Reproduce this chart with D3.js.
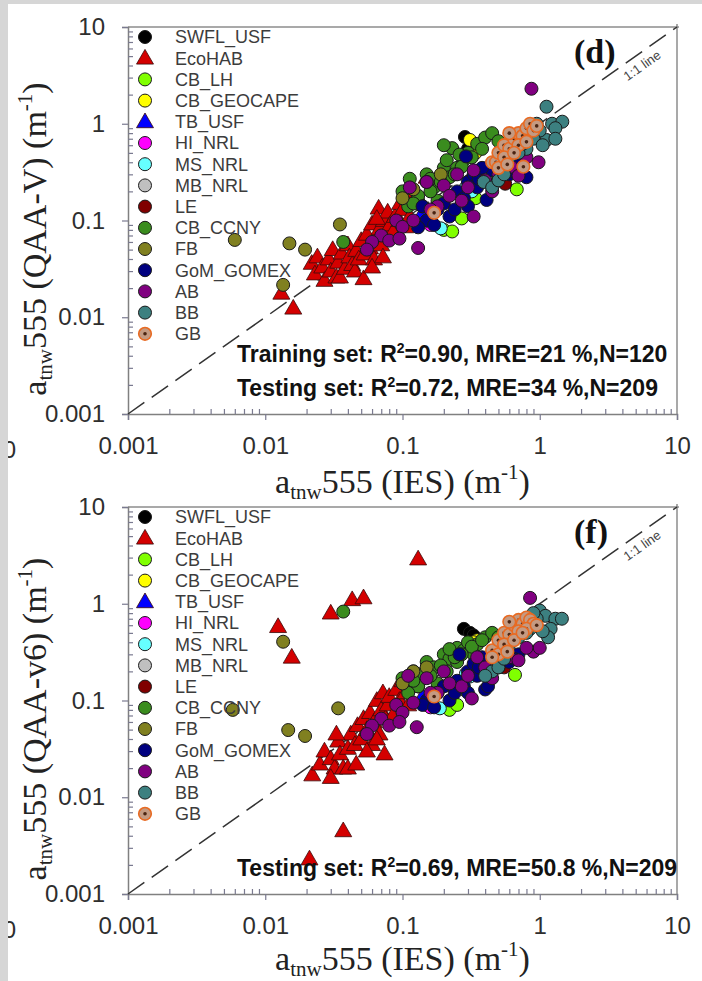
<!DOCTYPE html>
<html>
<head>
<meta charset="utf-8">
<script src="https://cdn.jsdelivr.net/npm/d3@7"></script>
<style>
body { margin: 0; background: #fff; }
svg { display: block; }
</style>
</head>
<body>
<div id="chart"></div>
<script>
var seriesNames = ["SWFL_USF", "EcoHAB", "CB_LH", "CB_GEOCAPE", "TB_USF", "HI_NRL", "MS_NRL", "MB_NRL",
    "LE", "CB_CCNY", "FB", "GoM_GOMEX", "AB", "BB", "GB"];
var seriesFill = ["#000000", "#d40000", "#80ff00", "#ffff00", "#0000ff", "#ff00ff", "#66ffff", "#c0c0c0",
    "#800000", "#3a8c1e", "#808020", "#000080", "#800080", "#3c8080", "#c49a82"];
var seriesShape = ["circle", "triangle", "circle", "circle", "triangle", "circle", "circle", "circle",
    "circle", "circle", "circle", "circle", "circle", "circle", "ring"];

var tickValues = [0.001, 0.01, 0.1, 1, 10];
var tickLabels = ["0.001", "0.01", "0.1", "1", "10"];

// panel (d): QAA-V vs IES
var d_SWFL = [[0.285, 0.73], [0.33, 0.62], [0.3, 0.55]];
var d_EcoHAB = [[0.0131, 0.0177], [0.016, 0.0124], [0.0218, 0.036], [0.023, 0.028], [0.024, 0.042], [0.026, 0.033],
    [0.027, 0.024], [0.029, 0.04], [0.03, 0.03], [0.031, 0.05], [0.033, 0.026], [0.034, 0.037], [0.035, 0.026],
    [0.036, 0.046], [0.038, 0.032], [0.04, 0.056], [0.041, 0.042], [0.043, 0.035], [0.045, 0.03], [0.046, 0.049],
    [0.048, 0.04], [0.05, 0.062], [0.052, 0.025], [0.053, 0.045], [0.055, 0.072], [0.058, 0.052], [0.06, 0.092],
    [0.062, 0.04], [0.064, 0.066], [0.067, 0.134], [0.068, 0.082], [0.07, 0.056], [0.072, 0.042], [0.073, 0.1],
    [0.076, 0.07], [0.078, 0.122], [0.081, 0.09], [0.085, 0.076], [0.088, 0.11], [0.096, 0.15], [0.095, 0.1],
    [0.1, 0.13], [0.105, 0.086], [0.113, 0.11], [0.11, 0.17], [0.12, 0.2], [0.13, 0.16], [0.15, 0.28],
    [0.06, 0.033], [0.065, 0.105]];
var d_CBLH = [[0.2, 0.08], [0.23, 0.077], [0.68, 0.21], [0.27, 0.105], [0.34, 0.17]];
var d_GEOCAPE = [[0.37, 0.56], [0.34, 0.5], [0.31, 0.68]];
var d_TBUSF = [[0.14, 0.12]];
var d_HINRL = [[0.16, 0.09], [0.15, 0.1]];
var d_MSNRL = [[0.19, 0.083], [0.32, 0.2], [0.29, 0.22]];
var d_MBNRL = [[0.55, 0.45]];
var d_LE = [[0.56, 0.24], [0.5, 0.28], [0.13, 0.16]];
var d_CCNY = [[0.037, 0.06], [0.1, 0.2], [0.113, 0.27], [0.13, 0.18], [0.15, 0.3], [0.17, 0.22], [0.2, 0.35],
    [0.22, 0.28], [0.23, 0.56], [0.25, 0.35], [0.28, 0.42], [0.2, 0.6], [0.3, 0.5], [0.35, 0.62], [0.18, 0.16],
    [0.14, 0.14], [0.4, 0.72], [0.45, 0.8], [0.5, 0.66], [0.16, 0.27], [0.11, 0.14], [0.26, 0.48],
    [0.12, 0.15], [0.16, 0.2], [0.19, 0.25], [0.24, 0.3], [0.32, 0.45], [0.38, 0.55], [0.27, 0.36], [0.21, 0.42]];
var d_FB = [[0.006, 0.063], [0.015, 0.058], [0.0195, 0.05], [0.0135, 0.0216], [0.035, 0.091], [0.12, 0.21],
    [0.15, 0.25], [0.1, 0.17], [0.19, 0.3]];
var d_GOMEX = [[0.15, 0.1], [0.18, 0.13], [0.2, 0.15], [0.25, 0.2], [0.28, 0.17], [0.3, 0.25], [0.33, 0.3],
    [0.35, 0.22], [0.41, 0.163], [0.5, 0.27], [0.55, 0.4], [0.6, 0.3], [0.22, 0.11], [0.29, 0.46], [0.45, 0.33],
    [0.13, 0.085], [0.3, 0.14], [0.8, 0.28], [0.14, 0.14], [0.24, 0.13], [0.36, 0.27], [0.38, 0.35],
    [0.7, 0.38], [0.65, 0.32], [0.17, 0.09]];
var d_AB = [[0.87, 2.3], [0.13, 0.052], [0.33, 0.11], [0.07, 0.07], [0.06, 0.06], [0.09, 0.1], [0.1, 0.086],
    [0.12, 0.1], [0.08, 0.062], [0.2, 0.23], [0.18, 0.14], [0.27, 0.16], [0.33, 0.33], [0.62, 0.36], [0.7, 0.29],
    [0.98, 0.4], [0.5, 0.3], [0.25, 0.3], [0.113, 0.22], [0.055, 0.05], [0.15, 0.25], [0.16, 0.13],
    [0.22, 0.18], [0.3, 0.22], [0.4, 0.26], [0.45, 0.2], [0.8, 0.45], [0.095, 0.065]];
var d_BB = [[1.12, 1.5], [1.23, 1.0], [1.46, 1.05], [1.3, 0.9], [1.12, 0.68], [1.3, 0.7], [1.0, 0.85], [0.9, 0.7],
    [0.8, 0.55], [0.7, 0.5], [0.39, 0.25], [0.45, 0.22], [0.5, 0.26], [0.95, 1.0], [0.6, 0.45], [0.55, 0.3],
    [0.75, 0.62], [1.05, 0.6]];
var d_GB = [[0.45, 0.4], [0.48, 0.4], [0.5, 0.5], [0.55, 0.6], [0.6, 0.55], [0.65, 0.7], [0.7, 0.8], [0.75, 0.75],
    [0.8, 0.9], [0.85, 1.0], [0.9, 0.85], [0.6, 0.8], [0.5, 0.35], [0.7, 0.6], [0.55, 0.45], [0.8, 0.65],
    [0.65, 0.5], [0.95, 0.95], [0.76, 0.36], [0.58, 0.38], [0.17, 0.12]];

// panel (f): QAA-v6 vs IES
var f_SWFL = [[0.28, 0.55], [0.31, 0.5], [0.33, 0.47]];
var f_EcoHAB = [[0.0124, 0.58], [0.0156, 0.28], [0.03, 0.8], [0.043, 1.1], [0.052, 1.15], [0.13, 2.9],
    [0.037, 0.0045], [0.021, 0.0023], [0.022, 0.017], [0.025, 0.022], [0.027, 0.03], [0.03, 0.025],
    [0.032, 0.02], [0.034, 0.038], [0.035, 0.028], [0.037, 0.02], [0.04, 0.032], [0.042, 0.045], [0.045, 0.035],
    [0.047, 0.055], [0.05, 0.04], [0.052, 0.065], [0.055, 0.05], [0.058, 0.075], [0.06, 0.035], [0.062, 0.06],
    [0.065, 0.1], [0.068, 0.045], [0.07, 0.08], [0.072, 0.12], [0.074, 0.028], [0.075, 0.065], [0.078, 0.09],
    [0.08, 0.11], [0.085, 0.07], [0.09, 0.13], [0.095, 0.1], [0.1, 0.16], [0.105, 0.12], [0.11, 0.09],
    [0.12, 0.14], [0.03, 0.016], [0.04, 0.02], [0.055, 0.03], [0.065, 0.04], [0.033, 0.045], [0.046, 0.022],
    [0.127, 0.17]];
var f_CBLH = [[0.22, 0.08], [0.66, 0.184], [0.28, 0.13], [0.25, 0.09]];
var f_GEOCAPE = [[0.35, 0.42], [0.33, 0.4]];
var f_TBUSF = [[0.14, 0.11]];
var f_HINRL = [[0.15, 0.09], [0.16, 0.085]];
var f_MSNRL = [[0.187, 0.083], [0.31, 0.177], [0.29, 0.19]];
var f_MBNRL = [[0.55, 0.38]];
var f_LE = [[0.55, 0.22], [0.5, 0.24], [0.13, 0.14]];
var f_CCNY = [[0.037, 0.83], [0.1, 0.17], [0.12, 0.2], [0.14, 0.19], [0.15, 0.25], [0.17, 0.22], [0.2, 0.3],
    [0.22, 0.27], [0.25, 0.35], [0.28, 0.33], [0.3, 0.4], [0.35, 0.38], [0.4, 0.45], [0.45, 0.5], [0.5, 0.45],
    [0.18, 0.15], [0.13, 0.14], [0.25, 0.25], [0.33, 0.3], [0.21, 0.2], [0.11, 0.12], [0.12, 0.16],
    [0.16, 0.18], [0.19, 0.23], [0.24, 0.28], [0.32, 0.36], [0.38, 0.42], [0.27, 0.3], [0.22, 0.34]];
var f_FB = [[0.0135, 0.405], [0.0058, 0.08], [0.0147, 0.0495], [0.0195, 0.043], [0.034, 0.083], [0.12, 0.2],
    [0.15, 0.22], [0.1, 0.15]];
var f_GOMEX = [[0.15, 0.1], [0.18, 0.12], [0.2, 0.14], [0.25, 0.16], [0.28, 0.14], [0.3, 0.2], [0.33, 0.24],
    [0.35, 0.18], [0.4, 0.13], [0.42, 0.14], [0.5, 0.22], [0.55, 0.3], [0.6, 0.25], [0.22, 0.1], [0.26, 0.3],
    [0.45, 0.28], [0.14, 0.09], [0.3, 0.12], [0.24, 0.12], [0.36, 0.22], [0.38, 0.28], [0.7, 0.3],
    [0.65, 0.27], [0.17, 0.085]];
var f_AB = [[0.85, 1.15], [0.127, 0.053], [0.32, 0.105], [0.07, 0.065], [0.06, 0.055], [0.09, 0.09],
    [0.1, 0.075], [0.12, 0.095], [0.08, 0.055], [0.2, 0.2], [0.18, 0.12], [0.27, 0.14], [0.35, 0.28],
    [0.6, 0.28], [0.7, 0.26], [0.9, 0.32], [1.0, 0.35], [0.5, 0.25], [0.11, 0.18], [0.055, 0.045], [0.15, 0.17],
    [0.16, 0.12], [0.22, 0.15], [0.3, 0.18], [0.4, 0.22], [0.45, 0.17], [0.8, 0.35], [0.095, 0.06]];
var f_BB = [[1.0, 0.85], [1.1, 0.75], [1.3, 0.7], [1.45, 0.7], [1.2, 0.55], [1.15, 0.45], [0.95, 0.7],
    [0.85, 0.55], [0.8, 0.5], [0.7, 0.45], [0.45, 0.2], [0.4, 0.18], [0.5, 0.22], [0.9, 0.8], [0.6, 0.38],
    [0.55, 0.27], [0.75, 0.55], [1.05, 0.52]];
var f_GB = [[0.45, 0.33], [0.5, 0.42], [0.55, 0.5], [0.6, 0.48], [0.65, 0.6], [0.7, 0.68], [0.75, 0.62],
    [0.8, 0.72], [0.85, 0.68], [0.9, 0.62], [0.6, 0.65], [0.5, 0.3], [0.7, 0.52], [0.55, 0.38], [0.45, 0.28],
    [0.8, 0.55], [0.65, 0.42], [0.95, 0.6], [0.75, 0.5], [0.58, 0.32], [0.17, 0.11]];

var panelD = [d_SWFL, d_EcoHAB, d_CBLH, d_GEOCAPE, d_TBUSF, d_HINRL, d_MSNRL, d_MBNRL, d_LE, d_CCNY, d_FB,
    d_GOMEX, d_AB, d_BB, d_GB];
var panelF = [f_SWFL, f_EcoHAB, f_CBLH, f_GEOCAPE, f_TBUSF, f_HINRL, f_MSNRL, f_MBNRL, f_LE, f_CCNY, f_FB,
    f_GOMEX, f_AB, f_BB, f_GB];

var panels = [
    { top: 27, bottom: 414, titleGap: 79, tag: "(d)", method: "QAA-V", series: panelD,
      stats: [["Training set: R", "=0.90, MRE=21 %,N=120"], ["Testing set: R", "=0.72, MRE=34 %,N=209"]] },
    { top: 507, bottom: 894, titleGap: 76, tag: "(f)", method: "QAA-v6", series: panelF,
      stats: [["Testing set: R", "=0.69, MRE=50.8 %,N=209"]] }
];

var width = 702, height = 981;
var left = 128, right = 677;
var sans = "'Liberation Sans', Arial, sans-serif";
var serif = "'Liberation Serif', 'Times New Roman', serif";

var svg = d3.select("#chart").append("svg")
    .attr("width", width)
    .attr("height", height);

svg.append("rect").attr("width", width).attr("height", height).attr("fill", "#fff");

// minor tick positions 2..9 in every decade
var minors = [];
tickValues.slice(0, -1).forEach(function (t) {
    for (var k = 2; k < 10; k++) minors.push(t * k);
});

var symTri = d3.symbol().type(d3.symbolTriangle).size(125);

function drawMarker(g, i, px, py) {
    var shape = seriesShape[i];
    if (shape == "triangle") {
        g.append("path")
            .attr("d", symTri())
            .attr("transform", "translate(" + px + "," + (py + 1) + ")")
            .attr("fill", seriesFill[i])
            .attr("stroke", "#3a0a0a")
            .attr("stroke-width", 0.8);
    } else if (shape == "ring") {
        g.append("circle").attr("cx", px).attr("cy", py).attr("r", 6.3)
            .attr("fill", seriesFill[i]).attr("stroke", "#e86a22").attr("stroke-width", 1.6);
        g.append("circle").attr("cx", px).attr("cy", py).attr("r", 1.8).attr("fill", "#4a2412");
    } else {
        g.append("circle").attr("cx", px).attr("cy", py).attr("r", 6.5)
            .attr("fill", seriesFill[i]).attr("stroke", "#1a1a1a").attr("stroke-width", 1);
    }
}

function axisTitle(t, method) {
    t.append("tspan").text("a");
    t.append("tspan").attr("dy", 6).attr("font-size", 21).text("tnw");
    t.append("tspan").attr("dy", -6).text("555 (" + method + ") (m");
    t.append("tspan").attr("dy", -14).attr("font-size", 21).text("-1");
    t.append("tspan").attr("dy", 14).text(")");
}

panels.forEach(function (p) {
    var x = d3.scaleLog().domain([0.001, 10]).range([left, right]);
    var y = d3.scaleLog().domain([0.001, 10]).range([p.bottom, p.top]);

    var g = svg.append("g");

    // frame top and right
    g.append("line").attr("x1", left).attr("x2", right + 2).attr("y1", p.top).attr("y2", p.top)
        .attr("stroke", "#8c8c8c").attr("stroke-width", 1.5);
    g.append("line").attr("x1", right).attr("x2", right).attr("y1", p.top - 3).attr("y2", p.bottom)
        .attr("stroke", "#8c8c8c").attr("stroke-width", 1.5);

    // bottom axis: majors outward, minors inward
    g.append("g").attr("transform", "translate(0," + p.bottom + ")")
        .call(d3.axisBottom(x).tickValues(tickValues).tickSize(6).tickPadding(17)
            .tickFormat(function (d, i) { return tickLabels[i]; }));
    g.append("g").attr("transform", "translate(0," + p.bottom + ")")
        .call(d3.axisBottom(x).tickValues(minors).tickSize(-5).tickFormat(""))
        .select(".domain").remove();

    g.append("g").attr("transform", "translate(" + left + ",0)")
        .call(d3.axisLeft(y).tickValues(tickValues).tickSize(6).tickPadding(17)
            .tickFormat(function (d, i) { return tickLabels[i]; }));
    g.append("g").attr("transform", "translate(" + left + ",0)")
        .call(d3.axisLeft(y).tickValues(minors).tickSize(-5).tickFormat(""))
        .select(".domain").remove();

    g.selectAll(".domain").attr("stroke", "#808080").attr("stroke-width", 1.5);
    g.selectAll(".tick line").attr("stroke", "#7a7a90").attr("stroke-width", 1.2);
    g.selectAll(".tick text").attr("font-family", sans).attr("font-size", 24).attr("fill", "#2e2e2e");

    // 1:1 line
    g.append("line")
        .attr("x1", x(0.001)).attr("y1", y(0.001))
        .attr("x2", x(10)).attr("y2", y(10))
        .attr("stroke", "#333").attr("stroke-width", 1.5)
        .attr("stroke-dasharray", "20,9");

    var ang = Math.atan2(y(10) - y(0.001), x(10) - x(0.001)) * 180 / Math.PI;
    g.append("text")
        .attr("transform", "translate(" + (x(5) + 9) + "," + (y(5) + 13) + ") rotate(" + ang + ")")
        .attr("text-anchor", "middle")
        .attr("font-family", sans).attr("font-size", 13).attr("fill", "#444")
        .text("1:1 line");

    g.append("text")
        .attr("x", 574).attr("y", p.top + 36)
        .attr("font-family", serif).attr("font-weight", "bold").attr("font-size", 34)
        .attr("fill", "#111")
        .text(p.tag);

    // points
    p.series.forEach(function (pts, i) {
        var sg = g.append("g").attr("class", "series");
        pts.forEach(function (d) {
            drawMarker(sg, i, x(d[0]), y(d[1]));
        });
    });

    // legend
    var lg = g.append("g").attr("class", "legend");
    seriesNames.forEach(function (name, i) {
        var ly = p.top + 10 + i * 21.2;
        drawMarker(lg, i, 145, ly);
        lg.append("text")
            .attr("x", 175).attr("y", ly).attr("dy", "0.36em")
            .attr("font-family", sans).attr("font-size", 18).attr("fill", "#3c3c3c")
            .text(name);
    });

    // statistics
    p.stats.forEach(function (s, i) {
        var t = g.append("text")
            .attr("x", 237).attr("y", p.bottom - 18 - (p.stats.length - 1 - i) * 34)
            .attr("font-family", sans).attr("font-weight", "bold").attr("font-size", 23)
            .attr("fill", "#111");
        t.append("tspan").text(s[0]);
        t.append("tspan").attr("dy", -9).attr("font-size", 14).text("2");
        t.append("tspan").attr("dy", 9).text(s[1]);
    });

    // axis titles
    var xt = g.append("text")
        .attr("x", (left + right) / 2).attr("y", p.bottom + p.titleGap)
        .attr("text-anchor", "middle")
        .attr("font-family", serif).attr("font-size", 34).attr("fill", "#222");
    axisTitle(xt, "IES");

    var yt = g.append("text")
        .attr("transform", "translate(46," + (p.top + 212) + ") rotate(-90)")
        .attr("text-anchor", "middle")
        .attr("font-family", serif).attr("font-size", 34).attr("fill", "#222");
    axisTitle(yt, p.method);

    // clipped label from the neighbouring figure
    g.append("text")
        .attr("x", 16).attr("y", p.bottom + 44)
        .attr("text-anchor", "end")
        .attr("font-family", sans).attr("font-size", 24).attr("fill", "#2e2e2e")
        .text("0");
});

// grey scan border
svg.append("rect").attr("x", 0).attr("y", 0).attr("width", 8).attr("height", height).attr("fill", "#d6d6d6");
svg.append("rect").attr("x", 0).attr("y", 0).attr("width", width).attr("height", 4).attr("fill", "#d6d6d6");
</script>
</body>
</html>
